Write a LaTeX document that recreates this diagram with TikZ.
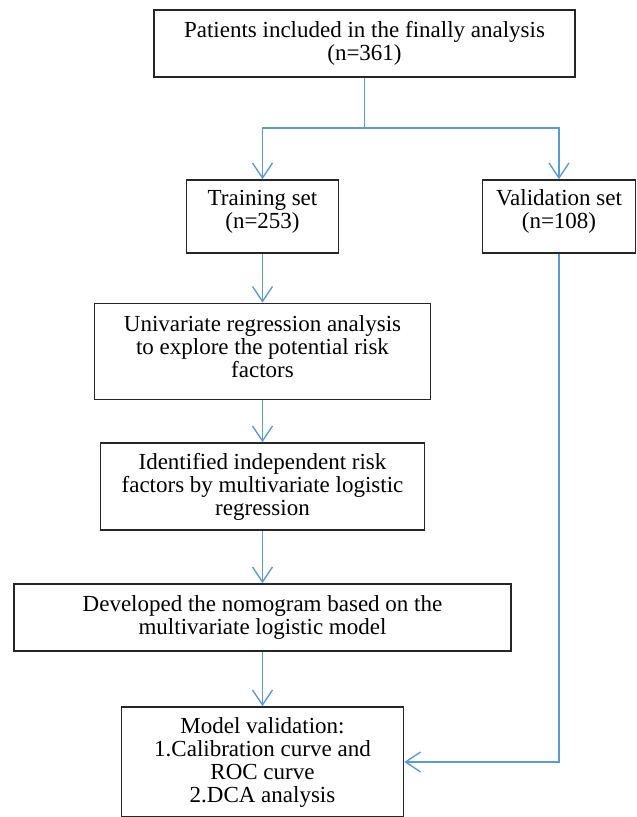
\documentclass[tikz,border=0pt]{standalone}
\usepackage{fontspec}
\setmainfont{Liberation Serif}
\usetikzlibrary{arrows.meta}
\definecolor{flowblue}{RGB}{91,155,213}
\tikzset{
    box/.style={draw=black!85, line width=1.6pt, align=center, inner sep=0pt,
        font=\fontsize{23}{23}\selectfont},
    link/.style={->, draw=flowblue, line width=1.4pt}
}
\begin{document}
\begin{tikzpicture}[x=1pt, y=-1pt, node distance=135pt, >={Straight Barb[length=15pt, width=20pt]}]
          \useasboundingbox (0,0) rectangle (637,817);
          \node[box, minimum width=421pt, minimum height=67pt] (1) at (364.5,43.5) {Patients included in the finally analysis\\(n=361)};
          \node[box, minimum width=152pt, minimum height=73pt, text depth=15pt] (2) at (262.5,216.5) {Training set\\(n=253)};
          \node[box, minimum width=153pt, minimum height=73pt, text depth=15pt] (3) at (559,216.5) {Validation set\\(n=108)};
          \node[box, minimum width=336pt, minimum height=96pt, text depth=10pt] (4) [below of=2] {Univariate regression analysis\\to explore the potential risk\\factors};
          \node[box, minimum width=324pt, minimum height=87pt] (5) [below of=4] {Identified independent risk\\factors by multivariate logistic\\regression};
          \node[box, minimum width=497pt, minimum height=67pt] (6) [node distance=131pt, below of=5] {Developed the nomogram based on the\\multivariate logistic model};
          \node[box, minimum width=282pt, minimum height=110pt] (7) [node distance=144.5pt, below of=6] {Model validation:\\1.Calibration curve and\\ROC curve\\2.DCA analysis};
          \coordinate (split) at (364.5,128);

          \draw[link, -] (1) -- (split);
          \draw[link] (split) -| (2);
          \draw[link] (split) -| (3);
          \draw[link] (2) -- (4);
          \draw[link] (4) -- (5);
          \draw[link] (5) -- (6);
          \draw[link] (6) -- (7);
          \draw[link] (3) |- (7);
    \end{tikzpicture}
\end{document}
